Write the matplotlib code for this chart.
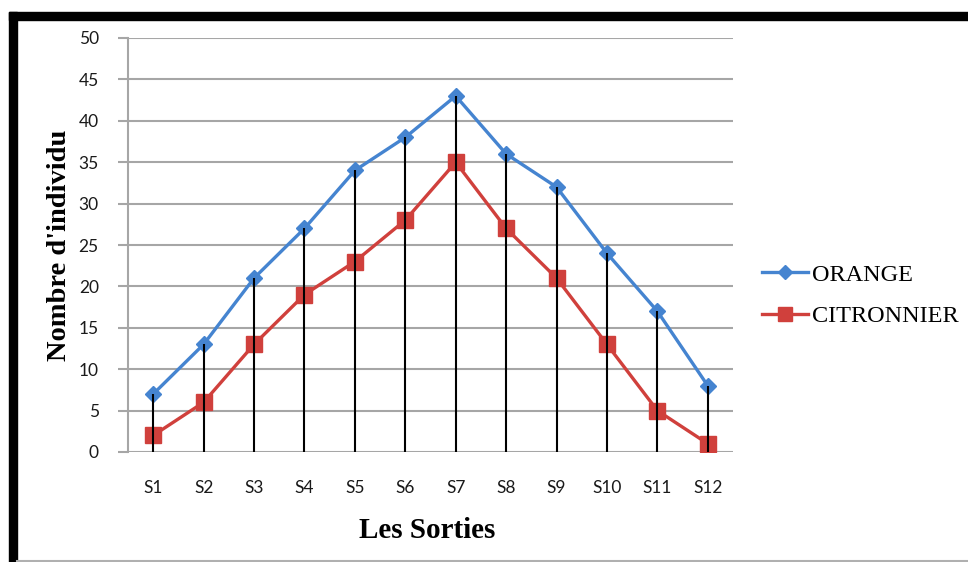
import matplotlib
matplotlib.use("Agg")
import matplotlib.pyplot as plt
from matplotlib.patches import Rectangle
from matplotlib.lines import Line2D

categories = ["S1", "S2", "S3", "S4", "S5", "S6", "S7", "S8", "S9", "S10", "S11", "S12"]
orange = [7, 13, 21, 27, 34, 38, 43, 36, 32, 24, 17, 8]
citronnier = [2, 6, 13, 19, 23, 28, 35, 27, 21, 13, 5, 1]
y_ticks = [0, 5, 10, 15, 20, 25, 30, 35, 40, 45, 50]

W, H = 968, 562
fig = plt.figure(figsize=(W / 100, H / 100), dpi=100)
fig.patch.set_facecolor("white")

# frame around the chart: heavy black top and left edges, thin grey bottom
fig.patches.append(Rectangle((9 / W, 1 - 19.5 / H), 1 - 9 / W, 8 / H,
                             transform=fig.transFigure, color="black", zorder=0))
fig.patches.append(Rectangle((9 / W, 0), 8 / W, 1 - 11.5 / H,
                             transform=fig.transFigure, color="black", zorder=0))
fig.lines.append(Line2D([17 / W, 1], [1.2 / H, 1.2 / H], transform=fig.transFigure,
                        color="#b0b0b0", lw=1.5))

left, right, top, bottom = 128, 733, 38, 452
ax = fig.add_axes([left / W, 1 - bottom / H, (right - left) / W, (bottom - top) / H])

blue = "#4584D0"
red = "#D0403C"
grid = "#a6a6a6"

x = list(range(len(categories)))
ax.set_xlim(-0.5, len(categories) - 0.5)
ax.set_ylim(0, 50)

for v in y_ticks:
    ax.axhline(v, color=grid, lw=1.5, zorder=1)

l_orange, = ax.plot(x, orange, color=blue, lw=2.4, marker="D", ms=8.5, zorder=3,
                    label="ORANGE")
l_citron, = ax.plot(x, citronnier, color=red, lw=2.4, marker="s", ms=12, zorder=3,
                    label="CITRONNIER")
ax.vlines(x, 0, orange, color="black", lw=1.5, zorder=4)

for s in ["top", "right", "bottom"]:
    ax.spines[s].set_visible(False)
ax.spines["left"].set_color(grid)
ax.spines["left"].set_linewidth(1.5)

ax.set_yticks(y_ticks)
ax.set_xticks(x)
ax.set_xticklabels(categories)
ax.tick_params(axis="y", direction="out", length=7, width=1.5, color=grid,
               pad=14, labelsize=12.5, labelcolor="#1a1a1a")
ax.tick_params(axis="x", length=0, pad=20, labelsize=12.5, labelcolor="#1a1a1a")
for lab in ax.get_xticklabels() + ax.get_yticklabels():
    lab.set_fontfamily("Lato")

fig.text(427 / W, 1 - 531 / H, "Les Sorties", family="Liberation Serif",
         weight="bold", fontsize=21, ha="center", va="center")
fig.text(60 / W, 1 - 245 / H, "Nombre d'individu", family="Liberation Serif",
         weight="bold", fontsize=20.5, ha="center", va="center", rotation=90)

fig.legend(handles=[l_orange, l_citron], loc="upper left",
           bbox_to_anchor=(740 / W, 1 - 242 / H), frameon=False,
           prop={"family": "Liberation Serif", "size": 17.5},
           handlelength=1.9, handletextpad=0.15, labelspacing=0.8,
           markerscale=0.85)

fig.savefig("out.png", dpi=100, facecolor="white")
